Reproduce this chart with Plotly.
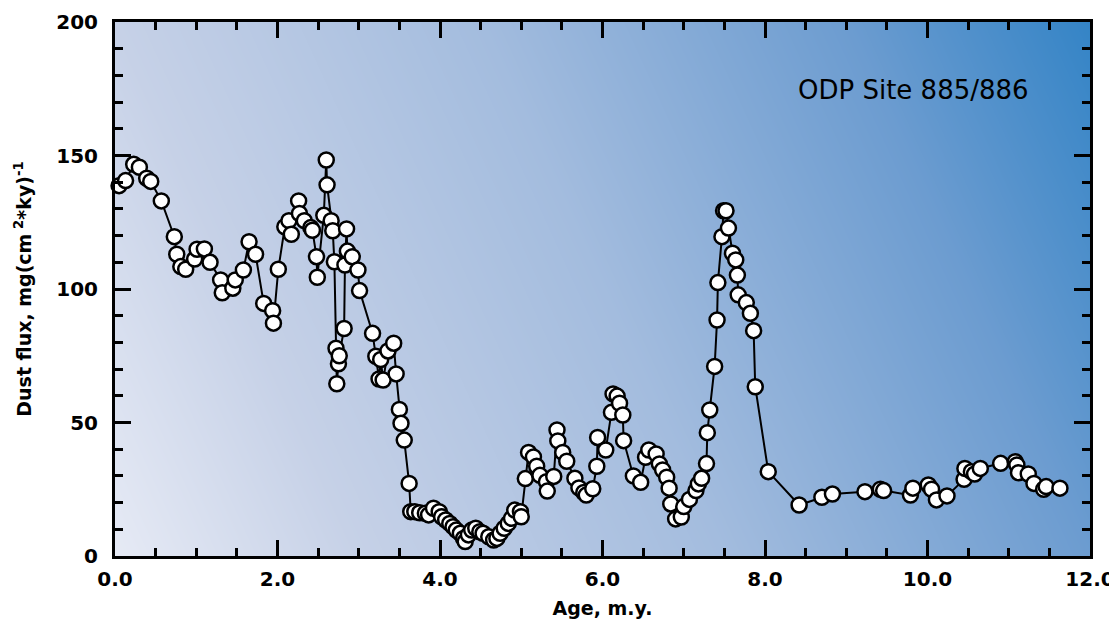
import plotly.graph_objects as go

age = [0.05, 0.13, 0.23, 0.30, 0.39, 0.44, 0.57, 0.73, 0.76, 0.81, 0.87, 0.98, 1.01, 1.10, 1.17,
       1.30, 1.32, 1.45, 1.48, 1.58, 1.65, 1.73, 1.83, 1.94, 1.95, 2.01, 2.09, 2.14, 2.17, 2.26,
       2.27, 2.33, 2.41, 2.43, 2.48, 2.49, 2.57, 2.60, 2.61, 2.66, 2.68, 2.70, 2.72, 2.73, 2.75,
       2.76, 2.82, 2.83, 2.85, 2.86, 2.92, 2.99, 3.01, 3.17, 3.21, 3.25, 3.27, 3.30, 3.36, 3.43,
       3.46, 3.50, 3.52, 3.56, 3.62, 3.64, 3.69, 3.75, 3.82, 3.86, 3.92, 3.99, 4.02, 4.07, 4.12,
       4.16, 4.20, 4.25, 4.29, 4.31, 4.35, 4.39, 4.44, 4.49, 4.53, 4.60, 4.66, 4.70, 4.74, 4.79,
       4.84, 4.88, 4.92, 4.99, 5.00, 5.05, 5.09, 5.15, 5.19, 5.23, 5.31, 5.32, 5.40, 5.44, 5.45,
       5.51, 5.56, 5.66, 5.71, 5.77, 5.80, 5.88, 5.93, 5.94, 6.04, 6.11, 6.13, 6.18, 6.21, 6.25,
       6.26, 6.38, 6.47, 6.53, 6.57, 6.66, 6.70, 6.74, 6.79, 6.82, 6.84, 6.90, 6.97, 7.00, 7.07,
       7.15, 7.18, 7.22, 7.28, 7.29, 7.32, 7.38, 7.41, 7.42, 7.47, 7.49, 7.52, 7.55, 7.60, 7.64,
       7.66, 7.67, 7.77, 7.82, 7.86, 7.88, 8.04, 8.42, 8.70, 8.83, 9.23, 9.42, 9.46, 9.79, 9.82,
       10.01, 10.05, 10.11, 10.24, 10.45, 10.46, 10.54, 10.58, 10.65, 10.90, 11.08, 11.10, 11.12,
       11.24, 11.31, 11.43, 11.46, 11.63]

flux = [138.7, 140.6, 146.7, 145.6, 141.5, 140.3, 133.0, 119.6, 113.0, 108.4, 107.4, 111.2, 114.9, 115.0, 110.0,
        103.4, 98.6, 100.3, 103.4, 107.1, 117.7, 113.0, 94.6, 91.9, 87.2, 107.4, 123.3, 125.6, 120.5, 133.0,
        128.3, 125.6, 123.0, 122.0, 112.1, 104.4, 127.6, 148.3, 139.0, 125.6, 121.8, 110.2, 77.8, 64.5, 72.0,
        75.0, 85.2, 109.0, 122.5, 114.2, 112.1, 107.1, 99.4, 83.4, 74.8, 66.3, 73.6, 65.9, 76.8, 79.7,
        68.2, 54.9, 49.7, 43.4, 27.2, 16.6, 16.6, 16.2, 16.0, 15.4, 17.9, 16.6, 14.7, 13.5, 12.2,
        11.0, 9.7, 8.5, 6.6, 5.4, 7.9, 9.7, 10.4, 9.1, 8.5, 7.2, 6.0, 6.6, 8.5, 10.4,
        12.2, 14.1, 17.2, 16.6, 14.7, 29.0, 38.8, 37.1, 33.6, 30.2, 27.8, 24.3, 29.8, 47.2, 43.1,
        38.8, 35.5, 29.1, 25.5, 23.8, 22.8, 25.2, 33.6, 44.4, 39.7, 53.8, 60.7, 59.9, 57.2, 52.8,
        43.2, 30.0, 27.6, 37.0, 39.7, 38.2, 34.5, 32.2, 29.5, 25.4, 19.5, 13.9, 14.6, 18.5, 21.2,
        24.5, 27.0, 29.1, 34.6, 46.2, 54.7, 71.0, 88.4, 102.4, 119.6, 129.3, 129.3, 122.8, 113.4, 110.9,
        105.2, 97.8, 94.9, 90.9, 84.4, 63.4, 31.6, 19.1, 22.0, 23.2, 24.1, 25.0, 24.5, 22.8, 25.4,
        26.6, 25.0, 21.0, 22.5, 28.7, 32.8, 31.6, 30.7, 32.8, 34.7, 35.3, 34.1, 31.2,
        30.7, 27.2, 25.0, 26.0, 25.4]

x_range = [0, 12]
y_range = [0, 200]
x_ticks = [0, 2, 4, 6, 8, 10, 12]
y_ticks = [0, 50, 100, 150, 200]
site_label = "ODP Site 885/886"

FONT = "DejaVu Sans"

fig = go.Figure()

# gradient background
fig.add_trace(go.Heatmap(
    x=x_range, y=y_range,
    z=[[0.0, 0.8], [0.2, 1.0]],
    zmin=0, zmax=1, zsmooth="best", showscale=False, hoverinfo="skip",
    colorscale=[[0.0, "rgb(230,234,245)"], [0.2, "rgb(198,209,231)"],
                [0.5, "rgb(163,188,222)"], [0.8, "rgb(108,156,208)"],
                [1.0, "rgb(52,132,198)"]],
))

fig.add_trace(go.Scatter(
    x=age, y=flux, mode="lines+markers", cliponaxis=False,
    line=dict(color="black", width=2),
    marker=dict(symbol="circle", size=15, color="white",
                line=dict(color="black", width=2.5)),
    hoverinfo="x+y", showlegend=False,
))

fig.add_annotation(x=9.83, y=174.5, text=site_label, showarrow=False,
                   font=dict(family=FONT, size=26, color="black"),
                   xanchor="center", yanchor="middle")

axis_common = dict(
    showgrid=False, zeroline=False, showline=True, linecolor="black", linewidth=3,
    mirror="ticks", ticks="inside", ticklen=16, tickwidth=2.5, tickcolor="black",
    automargin=False,
    tickfont=dict(family=FONT, size=20, color="black", weight="bold"),
)

fig.update_xaxes(
    range=x_range, tickvals=x_ticks, tickformat=".1f", ticklabelstandoff=3,
    minor=dict(dtick=0.5, ticks="inside", ticklen=8, tickwidth=2.5, tickcolor="black"),
    title=dict(text="Age, m.y.", font=dict(family=FONT, size=19, color="black", weight="bold"),
               standoff=12),
    **axis_common,
)
fig.update_yaxes(
    range=y_range, tickvals=y_ticks, ticklabelstandoff=10,
    minor=dict(dtick=10, ticks="inside", ticklen=8, tickwidth=2.5, tickcolor="black"),
    title=dict(text="Dust flux, mg(cm<sup> 2</sup>*ky)<sup>-1</sup>",
               font=dict(family=FONT, size=19, color="black", weight="bold"), standoff=20),
    **axis_common,
)

# page body adds an 8px offset; margins compensate so the plot area lands at 115..1090 x 22..556
fig.update_layout(
    width=1117, height=623,
    margin=dict(l=107, r=35, t=14, b=75),
    paper_bgcolor="white", plot_bgcolor="white",
    font=dict(family=FONT, color="black"),
)

fig.write_html("out.html")
